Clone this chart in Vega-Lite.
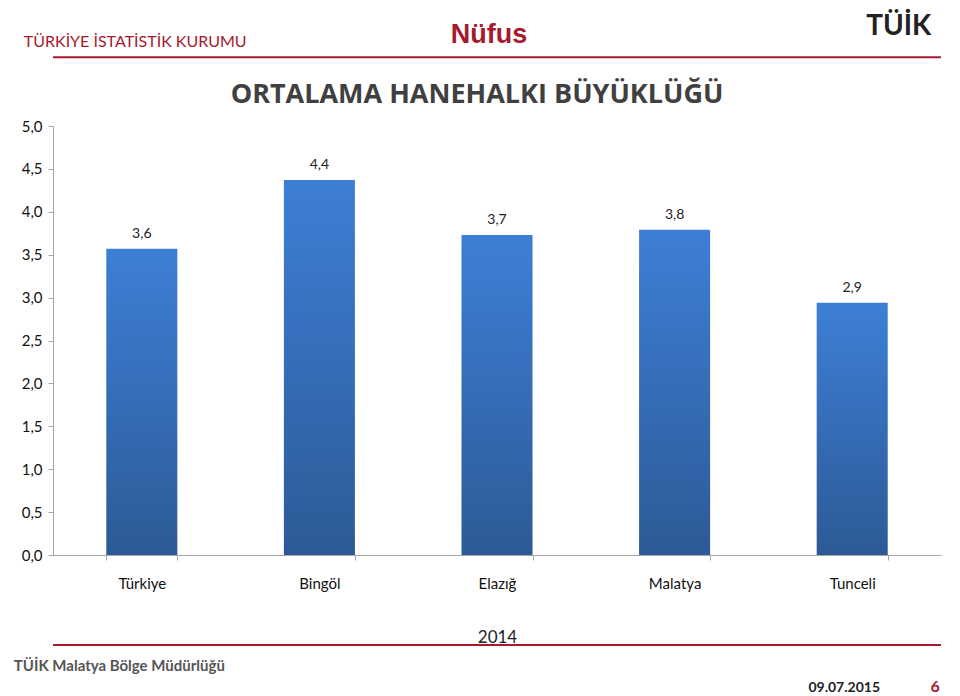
{
  "$schema": "https://vega.github.io/schema/vega-lite/v6.json",
  "width": 888,
  "height": 429,
  "autosize": {"type": "none"},
  "padding": {"left": 53, "top": 126, "right": 19, "bottom": 141},
  "background": "white",
  "config": {
    "view": {"stroke": null},
    "font": "Lato",
    "locale": {"number": {"decimal": ",", "thousands": ".", "grouping": [3], "currency": ["", " TL"]}}
  },
  "datasets": {
    "bars": [
      {"il": "Türkiye", "deger": 3.57},
      {"il": "Bingöl", "deger": 4.37},
      {"il": "Elazığ", "deger": 3.73},
      {"il": "Malatya", "deger": 3.79},
      {"il": "Tunceli", "deger": 2.94}
    ]
  },
  "layer": [
    {
      "data": {"name": "bars"},
      "mark": {
        "type": "bar",
        "color": {
          "gradient": "linear",
          "x1": 0, "y1": 0, "x2": 0, "y2": 1,
          "stops": [
            {"offset": 0, "color": "#3d7fd6"},
            {"offset": 1, "color": "#2d5a96"}
          ]
        }
      },
      "encoding": {
        "x": {
          "field": "il",
          "type": "nominal",
          "sort": null,
          "scale": {"paddingInner": 0.6, "paddingOuter": 0.3},
          "axis": {
            "title": "2014",
            "titleFontSize": 17,
            "titleFontWeight": "normal",
            "titleColor": "#222222",
            "titlePadding": 38,
            "labelAngle": 0,
            "labelFontSize": 15,
            "labelColor": "#111111",
            "labelPadding": 16,
            "domainColor": "#a6a6a6",
            "tickColor": "#a6a6a6",
            "tickBand": "extent",
            "tickSize": 5
          }
        },
        "y": {
          "field": "deger",
          "type": "quantitative",
          "scale": {"domain": [0, 5]},
          "axis": {
            "title": null,
            "values": [0, 0.5, 1, 1.5, 2, 2.5, 3, 3.5, 4, 4.5, 5],
            "format": ".1f",
            "grid": false,
            "labelFontSize": 15,
            "labelColor": "#111111",
            "labelPadding": 6,
            "domainColor": "#a6a6a6",
            "tickColor": "#a6a6a6",
            "tickSize": 5
          }
        }
      }
    },
    {
      "data": {"name": "bars"},
      "mark": {"type": "text", "dy": -15, "fontSize": 14, "color": "#222222"},
      "encoding": {
        "x": {"field": "il", "type": "nominal", "sort": null},
        "y": {"field": "deger", "type": "quantitative"},
        "text": {"field": "deger", "type": "quantitative", "format": ".1f"}
      }
    },
    {
      "data": {"values": [{}]},
      "mark": {"type": "rule", "color": "#a6192e", "strokeWidth": 2, "clip": false},
      "encoding": {"y": {"datum": 5.8}}
    },
    {
      "data": {"values": [{}]},
      "mark": {"type": "rule", "color": "#a6192e", "strokeWidth": 2, "clip": false},
      "encoding": {"y": {"datum": -1.05}}
    },
    {
      "data": {"values": [{"t": "Nüfus"}]},
      "mark": {"type": "text", "align": "center", "baseline": "middle", "dx": -8, "font": "Liberation Sans", "fontSize": 27, "fontWeight": "bold", "color": "#a6192e"},
      "encoding": {"x": {"datum": "Elazığ"}, "y": {"datum": 6.06}, "text": {"field": "t"}}
    },
    {
      "data": {"values": [{"t": "ORTALAMA HANEHALKI BÜYÜKLÜĞÜ"}]},
      "mark": {"type": "text", "align": "center", "baseline": "middle", "dx": -20, "font": "Open Sans", "fontSize": 27, "fontWeight": "bold", "color": "#404040"},
      "encoding": {"x": {"datum": "Elazığ"}, "y": {"datum": 5.36}, "text": {"field": "t"}}
    },
    {
      "data": {"values": [{"t": "TÜRKİYE İSTATİSTİK KURUMU"}]},
      "mark": {"type": "text", "align": "left", "baseline": "middle", "dx": -118, "dy": 2, "fontSize": 16, "color": "#a6192e"},
      "encoding": {"x": {"datum": "Türkiye"}, "y": {"datum": 6.0}, "text": {"field": "t"}}
    },
    {
      "data": {"values": [{"t": "TÜİK"}]},
      "mark": {"type": "text", "align": "left", "baseline": "middle", "dx": 14, "fontSize": 28, "fontWeight": "bold", "color": "#222222"},
      "encoding": {"x": {"datum": "Tunceli"}, "y": {"datum": 6.15}, "text": {"field": "t"}}
    },
    {
      "data": {"values": [{"t": "TÜİK Malatya Bölge Müdürlüğü"}]},
      "mark": {"type": "text", "align": "left", "baseline": "middle", "dx": -128, "dy": 2, "fontSize": 15, "fontWeight": "bold", "color": "#555555"},
      "encoding": {"x": {"datum": "Türkiye"}, "y": {"datum": -1.27}, "text": {"field": "t"}}
    },
    {
      "data": {"values": [{"t": "09.07.2015"}]},
      "mark": {"type": "text", "align": "center", "baseline": "middle", "dx": -8, "fontSize": 14, "fontWeight": "bold", "color": "#222222"},
      "encoding": {"x": {"datum": "Tunceli"}, "y": {"datum": -1.55}, "text": {"field": "t"}}
    },
    {
      "data": {"values": [{"t": "6"}]},
      "mark": {"type": "text", "align": "center", "baseline": "middle", "dx": 83, "fontSize": 16, "fontWeight": "bold", "color": "#a6192e"},
      "encoding": {"x": {"datum": "Tunceli"}, "y": {"datum": -1.54}, "text": {"field": "t"}}
    }
  ]
}
